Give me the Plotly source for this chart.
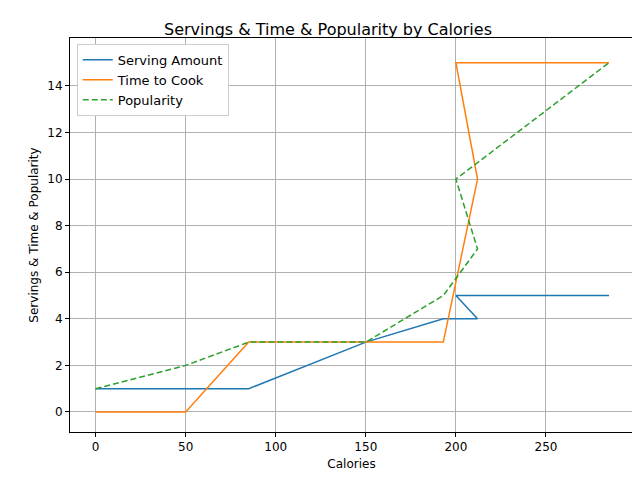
import plotly.graph_objects as go

calories = [0, 50, 85, 150, 193, 212, 200, 285]
servings = [1, 1, 1, 3, 4, 4, 5, 5]
time_to_cook = [0, 0, 3, 3, 3, 10, 15, 15]
popularity = [1, 2, 3, 3, 5, 7, 10, 15]

fig = go.Figure()
fig.add_trace(go.Scatter(x=calories, y=servings, mode='lines', name='Serving Amount',
                         line=dict(color='#1f77b4', width=1.5)))
fig.add_trace(go.Scatter(x=calories, y=time_to_cook, mode='lines', name='Time to Cook',
                         line=dict(color='#ff7f0e', width=1.5)))
fig.add_trace(go.Scatter(x=calories, y=popularity, mode='lines', name='Popularity',
                         line=dict(color='#2ca02c', width=1.5, dash='6px,3px')))

axis = dict(showline=True, linecolor='black', linewidth=1, mirror=True,
            showgrid=True, gridcolor='#b0b0b0', gridwidth=1, zeroline=False,
            ticks='outside', ticklen=4, tickcolor='black', automargin=False,
            tickfont=dict(size=12))
fig.update_layout(
    width=640, height=480,
    template='none',
    paper_bgcolor='white', plot_bgcolor='white',
    font=dict(family='DejaVu Sans', size=12, color='black'),
    title=dict(text='Servings & Time & Popularity by Calories', x=0.5, xanchor='center',
               y=0.955, yanchor='middle', font=dict(size=16), automargin=False),
    margin=dict(l=62, r=15, t=30, b=56, autoexpand=False),
    xaxis=dict(axis, title=dict(text='Calories', standoff=6, font=dict(size=12)),
               range=[-14.2, 298.3], tickvals=[0, 50, 100, 150, 200, 250]),
    yaxis=dict(axis, title=dict(text='Servings & Time & Popularity', standoff=6,
                                font=dict(size=12)),
               range=[-0.86, 16.06], tickvals=list(range(0, 16, 2))),
    legend=dict(x=0.012, y=0.985, xanchor='left', yanchor='top', bgcolor='white',
                bordercolor='#cccccc', borderwidth=1, font=dict(size=13)),
    showlegend=True,
)
fig.write_html("out.html")
